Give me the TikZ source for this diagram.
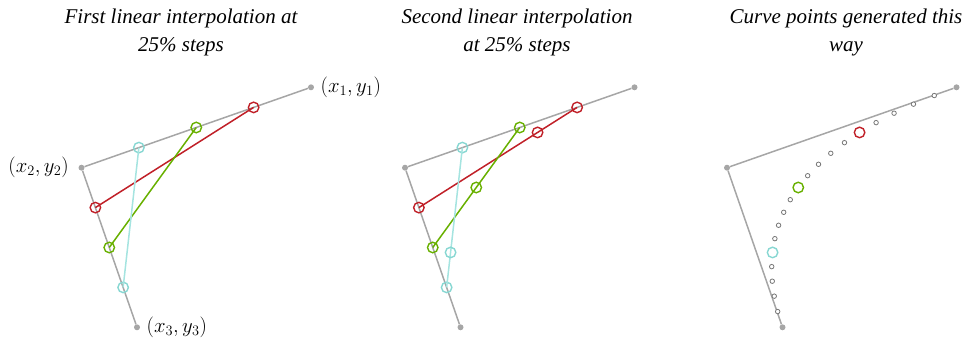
\documentclass[tikz,border=0pt]{standalone}
\usepackage{fontspec}
\setmainfont{Liberation Serif}
\usetikzlibrary{positioning, calc}
\definecolor{ptgray}{RGB}{166,166,166}
\definecolor{dotgray}{RGB}{120,120,120}
\definecolor{stepred}{RGB}{192,32,40}
\definecolor{stepgreen}{RGB}{104,176,0}
\definecolor{stepcyan}{RGB}{135,215,210}
\definecolor{tiecyan}{RGB}{165,228,224}

\begin{document}
\begin{tikzpicture}[
    x=1pt, y=-1pt,
    ctrl/.style={circle, fill=ptgray, inner sep=0pt, minimum size=6pt},
    hull/.style={draw=ptgray, line width=1.5pt},
    ring/.style={circle, draw=#1, line width=1.4pt, inner sep=0pt, minimum size=10.5pt},
    tie/.style={draw=#1, line width=1.5pt},
    dot/.style={circle, draw=dotgray, line width=0.8pt, fill=white, inner sep=0pt, minimum size=4.5pt},
    title/.style={font=\fontsize{21}{27.5}\selectfont\itshape, align=center},
    coord/.style={font=\fontsize{21.5}{24}\selectfont}
]
\useasboundingbox (0,0) rectangle (979,340);

% Titles
\node[title] (t1) at (181,32.5) {First linear interpolation at\\25\% steps};
\node[title] (t2) at (517,32.5) {Second linear interpolation\\at 25\% steps};
\node[title] (t3) at (846,32.5) {Curve points generated this\\way};

% Panel 1: first interpolation
\node[ctrl] (a1) at (311,87.3) {};
\node[ctrl] (a2) at (81.5,167.7) {};
\node[ctrl] (a3) at (137,327.3) {};
\draw[hull] (a1) -- (a2) -- (a3);

\node[coord, right=3pt of a1] (l1) {$(x_1,y_1)$};
\node[coord, left=6pt of a2] (l2) {$(x_2,y_2)$};
\node[coord, right=3pt of a3] (l3) {$(x_3,y_3)$};

\node[ring=stepred] (ar1) at ($(a1)!0.25!(a2)$) {};
\node[ring=stepred] (ar2) at ($(a2)!0.25!(a3)$) {};
\node[ring=stepgreen] (ag1) at ($(a1)!0.5!(a2)$) {};
\node[ring=stepgreen] (ag2) at ($(a2)!0.5!(a3)$) {};
\node[ring=stepcyan] (ac1) at ($(a1)!0.75!(a2)$) {};
\node[ring=stepcyan] (ac2) at ($(a2)!0.75!(a3)$) {};
\draw[tie=stepred] (ar1.center) -- (ar2.center);
\draw[tie=stepgreen] (ag1.center) -- (ag2.center);
\draw[tie=tiecyan] (ac1.center) -- (ac2.center);

% Panel 2: second interpolation
\begin{scope}[xshift=323.5pt]
\node[ctrl] (b1) at (311,87.3) {};
\node[ctrl] (b2) at (81.5,167.7) {};
\node[ctrl] (b3) at (137,327.3) {};
\draw[hull] (b1) -- (b2) -- (b3);

\node[ring=stepred] (br1) at ($(b1)!0.25!(b2)$) {};
\node[ring=stepred] (br2) at ($(b2)!0.25!(b3)$) {};
\node[ring=stepgreen] (bg1) at ($(b1)!0.5!(b2)$) {};
\node[ring=stepgreen] (bg2) at ($(b2)!0.5!(b3)$) {};
\node[ring=stepcyan] (bc1) at ($(b1)!0.75!(b2)$) {};
\node[ring=stepcyan] (bc2) at ($(b2)!0.75!(b3)$) {};
\draw[tie=stepred] (br1.center) -- (br2.center);
\draw[tie=stepgreen] (bg1.center) -- (bg2.center);
\draw[tie=tiecyan] (bc1.center) -- (bc2.center);

\node[ring=stepred] (br) at ($(br1)!0.25!(br2)$) {};
\node[ring=stepgreen] (bg) at ($(bg1)!0.5!(bg2)$) {};
\node[ring=stepcyan] (bc) at ($(bc1)!0.75!(bc2)$) {};
\end{scope}

% Panel 3: curve points
\begin{scope}[xshift=645.5pt]
\node[ctrl] (c1) at (311,87.3) {};
\node[ctrl] (c2) at (81.5,167.7) {};
\node[ctrl] (c3) at (137,327.3) {};
\draw[hull] (c1) -- (c2) -- (c3);

\foreach \k in {1,2,3,4,6,7,8,9,11,12,13,14,16,17,18,19} {
    \coordinate (u) at ($(c1)!\k/20!(c2)$);
    \coordinate (v) at ($(c2)!\k/20!(c3)$);
    \node[dot] (d\k) at ($(u)!\k/20!(v)$) {};
}
\foreach \k/\col in {5/stepred, 10/stepgreen, 15/stepcyan} {
    \coordinate (u) at ($(c1)!\k/20!(c2)$);
    \coordinate (v) at ($(c2)!\k/20!(c3)$);
    \node[ring=\col] (d\k) at ($(u)!\k/20!(v)$) {};
}
\end{scope}

\end{tikzpicture}
\end{document}
